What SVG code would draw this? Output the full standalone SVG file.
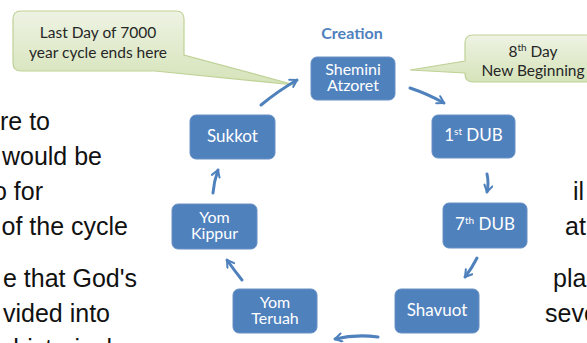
<svg xmlns="http://www.w3.org/2000/svg" width="587" height="343" viewBox="0 0 587 343">
<defs>
<linearGradient id="gr" x1="0" y1="0" x2="0" y2="1">
<stop offset="0" stop-color="#EEF3E3"/>
<stop offset="1" stop-color="#D5E3B9"/>
</linearGradient>
<marker id="ah" viewBox="0 0 10 10" refX="8" refY="5" markerWidth="3.4" markerHeight="3.4" orient="auto" markerUnits="strokeWidth">
<path d="M1.5,1 L8,5 L1.5,9" fill="none" stroke="#4F81BD" stroke-width="2" stroke-linecap="round" stroke-linejoin="round"/>
</marker>
<style>
.node rect{fill:#4F81BD;stroke:#6890C6;stroke-width:1}
.node text{font-family:Lato,"Open Sans",sans-serif;font-size:17px;fill:#FFFFFF;text-anchor:middle}
.node text.two{font-size:16px}
.sup{font-size:10px}
.call{fill:url(#gr);stroke:#BFD196;stroke-width:1.2}
.ct{font-family:Lato,"Open Sans",sans-serif;font-size:15.5px;fill:#262626;text-anchor:middle}
.body{font-family:"Liberation Sans",Arial,sans-serif;font-size:25px;fill:#111111}
.conn path{fill:none;stroke:#4F81BD;stroke-width:3;stroke-linecap:round;marker-end:url(#ah)}
</style>
</defs>
<rect width="587" height="343" fill="#FFFFFF"/>

<g id="bodytext">
<text class="body" x="50" y="130" text-anchor="end">re to</text>
<text class="body" x="102" y="165" text-anchor="end">would be</text>
<text class="body" x="43" y="200" text-anchor="end">o for</text>
<text class="body" x="128" y="235" text-anchor="end">of the cycle</text>
<text class="body" x="137" y="287" text-anchor="end">e that God's</text>
<text class="body" x="110" y="322" text-anchor="end">vided into</text>
<text class="body" x="112" y="357" text-anchor="end">historical</text>
<text class="body" x="573" y="200">il</text>
<text class="body" x="565" y="235">at</text>
<text class="body" x="553" y="287">pla</text>
<text class="body" x="545" y="322">seve</text>
</g>

<g id="callout-left">
<path class="call" d="M21,11 H176 Q184,11 184,19 V55 L295,85 L155,71 H21 Q13,71 13,63 V19 Q13,11 21,11 Z"/>
<text class="ct" x="98" y="37.5">Last Day of 7000</text>
<text class="ct" x="98" y="58">year cycle ends here</text>
</g>

<g id="callout-right">
<path class="call" d="M473,35 H612 V82 H473 Q465,82 465,74 V73 L410,70 L465,61 V43 Q465,35 473,35 Z"/>
<text class="ct" x="533" y="57">8<tspan class="sup" dy="-6">th</tspan><tspan dy="6"> Day</tspan></text>
<text class="ct" x="533" y="76">New Beginning</text>
</g>

<g id="creation-label">
<text x="352" y="39" font-family="Lato,'Open Sans',sans-serif" font-size="16" font-weight="bold" fill="#4F81BD" text-anchor="middle">Creation</text>
</g>

<g id="node-shemini" class="node">
<rect x="311" y="57" width="84" height="43" rx="6"/>
<text class="two"><tspan x="353" y="74.5">Shemini</tspan><tspan x="353" y="90.5">Atzoret</tspan></text>
</g>
<g id="node-1dub" class="node">
<rect x="432" y="115" width="83" height="43" rx="6"/>
<text x="473.5" y="141">1<tspan class="sup" dy="-6">st</tspan><tspan dy="6"> DUB</tspan></text>
</g>
<g id="node-7dub" class="node">
<rect x="443" y="203" width="84" height="45" rx="6"/>
<text x="485" y="230">7<tspan class="sup" dy="-6">th</tspan><tspan dy="6"> DUB</tspan></text>
</g>
<g id="node-shavuot" class="node">
<rect x="395" y="289" width="84" height="44" rx="6"/>
<text x="437" y="316">Shavuot</text>
</g>
<g id="node-yomteruah" class="node">
<rect x="233" y="289" width="84" height="44" rx="6"/>
<text class="two"><tspan x="275" y="307.5">Yom</tspan><tspan x="275" y="323.5">Teruah</tspan></text>
</g>
<g id="node-yomkippur" class="node">
<rect x="172" y="204" width="85" height="45" rx="6"/>
<text class="two"><tspan x="214.5" y="222.5">Yom</tspan><tspan x="214.5" y="238.5">Kippur</tspan></text>
</g>
<g id="node-sukkot" class="node">
<rect x="190" y="115" width="85" height="44" rx="6"/>
<text x="232.5" y="142">Sukkot</text>
</g>

<g id="connectors" class="conn">
<path d="M261,105 Q278,91 297,80"/>
<path d="M410,88 Q428,94 444,103"/>
<path d="M487,174 Q489,183 487,192"/>
<path d="M477,258 Q472,268 465,277"/>
<path d="M378,337 Q356,334 335,339"/>
<path d="M242,280 Q234,270 227,260"/>
<path d="M213,193 Q214,181 218,170"/>
</g>
</svg>
